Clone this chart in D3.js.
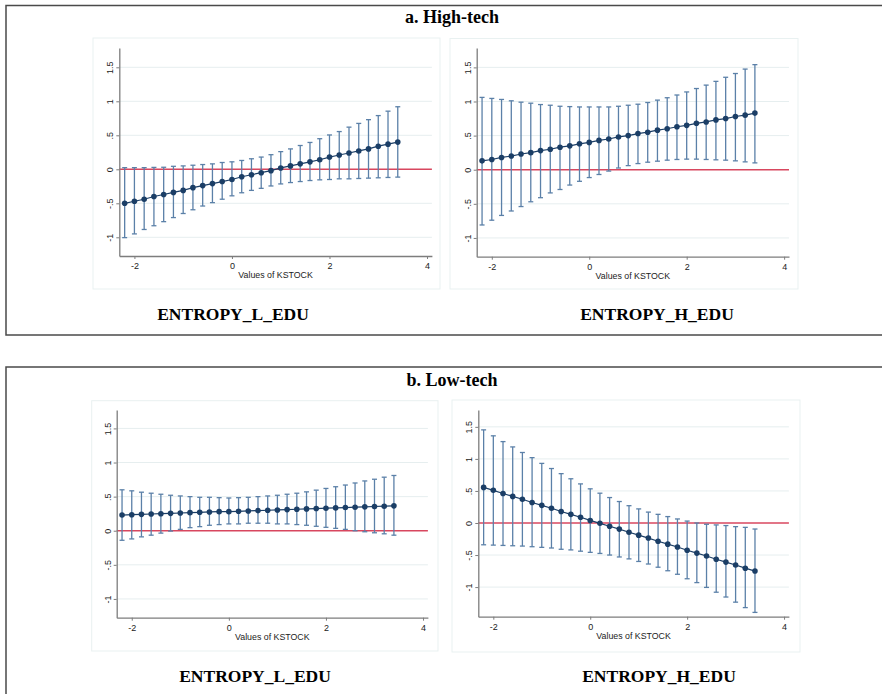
<!DOCTYPE html>
<html>
<head>
<meta charset="utf-8">
<script src="https://cdn.jsdelivr.net/npm/d3@7"></script>
<style>
  body { margin: 0; background: #fff; }
  svg { display: block; }
</style>
</head>
<body>
<div id="chart"></div>
<script>
// values of KSTOCK at which the margins were evaluated
const kstock = [-2.2, -2.0, -1.8, -1.6, -1.4, -1.2, -1.0, -0.8, -0.6, -0.4, -0.2, 0.0, 0.2, 0.4, 0.6,
  0.8, 1.0, 1.2, 1.4, 1.6, 1.8, 2.0, 2.2, 2.4, 2.6, 2.8, 3.0, 3.2, 3.4];

// a. High-tech, ENTROPY_L_EDU
const hiL_est = [-0.50, -0.47, -0.44, -0.40, -0.37, -0.34, -0.31, -0.27, -0.24, -0.21, -0.18, -0.15, -0.11, -0.08, -0.05,
  -0.02, 0.02, 0.05, 0.08, 0.11, 0.14, 0.18, 0.21, 0.24, 0.27, 0.30, 0.34, 0.37, 0.40];
const hiL_hi = [0.024, 0.024, 0.024, 0.028, 0.03, 0.044, 0.05, 0.06, 0.07, 0.08, 0.10, 0.11, 0.13, 0.155, 0.18,
  0.215, 0.26, 0.30, 0.35, 0.395, 0.45, 0.505, 0.555, 0.62, 0.675, 0.73, 0.79, 0.855, 0.92];
const hiL_lo = [-1.005, -0.95, -0.885, -0.83, -0.77, -0.71, -0.65, -0.595, -0.54, -0.49, -0.44, -0.39, -0.345, -0.31, -0.28,
  -0.245, -0.215, -0.195, -0.18, -0.165, -0.155, -0.15, -0.14, -0.14, -0.135, -0.13, -0.125, -0.12, -0.115];

// a. High-tech, ENTROPY_H_EDU
const hiH_est = [0.13, 0.15, 0.18, 0.20, 0.23, 0.25, 0.28, 0.30, 0.33, 0.35, 0.38, 0.40, 0.43, 0.45, 0.48,
  0.50, 0.53, 0.55, 0.58, 0.60, 0.63, 0.65, 0.68, 0.70, 0.73, 0.75, 0.78, 0.80, 0.83];
const hiH_hi = [1.06, 1.045, 1.03, 1.01, 0.99, 0.975, 0.955, 0.945, 0.93, 0.925, 0.92, 0.92, 0.92, 0.92, 0.93,
  0.945, 0.96, 0.985, 1.02, 1.055, 1.095, 1.14, 1.19, 1.24, 1.295, 1.355, 1.41, 1.475, 1.54];
const hiH_lo = [-0.81, -0.74, -0.67, -0.605, -0.54, -0.47, -0.41, -0.34, -0.29, -0.225, -0.17, -0.115, -0.07, -0.02, 0.025,
  0.06, 0.09, 0.11, 0.125, 0.14, 0.15, 0.155, 0.155, 0.15, 0.145, 0.14, 0.13, 0.115, 0.10];

// b. Low-tech, ENTROPY_L_EDU
const loL_est = [0.23, 0.235, 0.24, 0.245, 0.25, 0.255, 0.26, 0.265, 0.27, 0.275, 0.28, 0.28, 0.285, 0.29, 0.295,
  0.30, 0.305, 0.31, 0.315, 0.32, 0.325, 0.33, 0.335, 0.34, 0.345, 0.35, 0.355, 0.36, 0.365];
const loL_hi = [0.60, 0.585, 0.565, 0.55, 0.535, 0.52, 0.51, 0.50, 0.49, 0.49, 0.485, 0.48, 0.485, 0.49, 0.50,
  0.51, 0.52, 0.535, 0.55, 0.57, 0.595, 0.62, 0.645, 0.67, 0.70, 0.73, 0.755, 0.785, 0.81];
const loL_lo = [-0.14, -0.12, -0.09, -0.065, -0.035, -0.005, 0.02, 0.045, 0.06, 0.08, 0.09, 0.10, 0.10, 0.11, 0.11,
  0.11, 0.10, 0.10, 0.09, 0.08, 0.065, 0.05, 0.035, 0.02, 0.0, -0.015, -0.03, -0.045, -0.065];

// b. Low-tech, ENTROPY_H_EDU
const loH_est = [0.555, 0.51, 0.46, 0.415, 0.37, 0.32, 0.275, 0.23, 0.18, 0.135, 0.09, 0.04, -0.005, -0.05, -0.095,
  -0.145, -0.19, -0.235, -0.285, -0.33, -0.375, -0.425, -0.47, -0.515, -0.565, -0.61, -0.655, -0.705, -0.75];
const loH_hi = [1.453, 1.36, 1.27, 1.187, 1.10, 1.02, 0.93, 0.85, 0.77, 0.69, 0.61, 0.533, 0.465, 0.397, 0.335,
  0.27, 0.22, 0.17, 0.135, 0.10, 0.063, 0.03, 0.0, -0.02, -0.03, -0.04, -0.057, -0.068, -0.094];
const loH_lo = [-0.34, -0.345, -0.35, -0.355, -0.36, -0.37, -0.38, -0.39, -0.41, -0.42, -0.44, -0.458, -0.475, -0.50, -0.53,
  -0.56, -0.60, -0.64, -0.69, -0.745, -0.80, -0.87, -0.93, -1.005, -1.08, -1.155, -1.235, -1.32, -1.395];

const yTicks = [-1, -0.5, 0, 0.5, 1, 1.5];
const xTicks = [-2, 0, 2, 4];
const sectionTitles = ["a. High-tech", "b. Low-tech"];
const panelTitles = ["ENTROPY_L_EDU", "ENTROPY_H_EDU"];
const xTitle = "Values of KSTOCK";

const W = 882, H = 694;
const navy = "#1b3e66", ciColor = "#5b80a8", zeroColor = "#d8475f";

const svg = d3.select("#chart").append("svg")
  .attr("width", W).attr("height", H);

// section frames (run off the right / bottom edge like the source)
svg.append("rect").attr("x", 6).attr("y", 5.5).attr("width", 900).attr("height", 329.5)
  .attr("fill", "none").attr("stroke", "#4a4a4a").attr("stroke-width", 1.5);
svg.append("rect").attr("x", 6).attr("y", 367).attr("width", 900).attr("height", 400)
  .attr("fill", "none").attr("stroke", "#4a4a4a").attr("stroke-width", 1.5);

svg.selectAll(".section-title")
  .data(sectionTitles)
  .enter().append("text")
  .attr("x", 452)
  .attr("y", (d, i) => i === 0 ? 23 : 386)
  .attr("text-anchor", "middle")
  .style("font-family", "'Liberation Serif', 'Times New Roman', serif")
  .style("font-weight", "bold")
  .style("font-size", "18px")
  .text(d => d);

const panels = [
  { est: hiL_est, lo: hiL_lo, hi: hiL_hi, left: 119.3, right: 431.9, top: 48, bottom: 256, yMin: -1.275, yMax: 1.784,
    box: [93, 38, 440, 289], title: panelTitles[0], tx: 233, ty: 320 },
  { est: hiH_est, lo: hiH_lo, hi: hiH_hi, left: 476.7, right: 789, top: 48, bottom: 256.7, yMin: -1.275, yMax: 1.784,
    box: [450, 38.5, 798, 289], title: panelTitles[1], tx: 657, ty: 320 },
  { est: loL_est, lo: loL_lo, hi: loL_hi, left: 116.7, right: 427.9, top: 410, bottom: 617.7, yMin: -1.275, yMax: 1.77,
    box: [91.7, 400.7, 438, 651], title: panelTitles[0], tx: 255, ty: 682 },
  { est: loH_est, lo: loH_lo, hi: loH_hi, left: 478.3, right: 788.9, top: 410, bottom: 616.7, yMin: -1.462, yMax: 1.763,
    box: [452, 400, 800, 652], title: panelTitles[1], tx: 659, ty: 682 }
];

const fmt = v => {
  if (v === 0) return "0";
  const s = String(v);
  return s.replace(/^0\./, ".").replace(/^-0\./, "-.");
};

panels.forEach(p => {
  const data = kstock.map((k, i) => ({ k, est: p.est[i], lo: p.lo[i], hi: p.hi[i] }));
  const x = d3.scaleLinear().domain([-2.31, 4.1]).range([p.left, p.right]);
  const y = d3.scaleLinear().domain([p.yMin, p.yMax]).range([p.bottom, p.top]);

  const g = svg.append("g");

  // plot region outline
  g.append("rect")
    .attr("x", p.box[0]).attr("y", p.box[1])
    .attr("width", p.box[2] - p.box[0]).attr("height", p.box[3] - p.box[1])
    .attr("fill", "#fff").attr("stroke", "#e9f1f1").attr("stroke-width", 1);

  // grid
  g.selectAll(".grid")
    .data(yTicks.filter(t => t !== 0))
    .enter().append("line")
    .attr("x1", p.left).attr("x2", p.right)
    .attr("y1", d => y(d)).attr("y2", d => y(d))
    .attr("stroke", "#e6eeef").attr("stroke-width", 1);

  // zero reference line
  g.append("line")
    .attr("x1", p.left).attr("x2", p.right)
    .attr("y1", y(0)).attr("y2", y(0))
    .attr("stroke", zeroColor).attr("stroke-width", 1.4);

  // axes
  const yAxis = g.append("g")
    .attr("transform", `translate(${p.left},0)`)
    .call(d3.axisLeft(y).tickValues(yTicks).tickSize(3).tickSizeOuter(0).tickFormat(fmt));
  yAxis.selectAll("text")
    .attr("transform", "rotate(-90)")
    .attr("x", 0).attr("y", -6).attr("dy", 0)
    .attr("text-anchor", "middle");

  const xAxis = g.append("g")
    .attr("transform", `translate(0,${p.bottom})`)
    .call(d3.axisBottom(x).tickValues(xTicks).tickSize(3).tickSizeOuter(0).tickPadding(4).tickFormat(fmt));

  [yAxis, xAxis].forEach(a => {
    a.select(".domain").attr("stroke", "#7d7d7d").attr("stroke-width", 1.3);
    a.selectAll(".tick line").attr("stroke", "#7d7d7d");
    a.selectAll("text")
      .style("font-family", "'Liberation Sans', Arial, sans-serif")
      .style("font-size", "9px")
      .attr("fill", "#222");
  });

  g.append("text")
    .attr("x", (p.left + p.right) / 2)
    .attr("y", p.bottom + 22)
    .attr("text-anchor", "middle")
    .style("font-family", "'Liberation Sans', Arial, sans-serif")
    .style("font-size", "8.8px")
    .attr("fill", "#222")
    .text(xTitle);

  // confidence intervals with caps
  const ci = g.selectAll(".ci").data(data).enter().append("g");
  ci.append("line")
    .attr("x1", d => x(d.k)).attr("x2", d => x(d.k))
    .attr("y1", d => y(d.lo)).attr("y2", d => y(d.hi))
    .attr("stroke", ciColor).attr("stroke-width", 1.3);
  ci.selectAll(".cap")
    .data(d => [{ k: d.k, v: d.lo }, { k: d.k, v: d.hi }])
    .enter().append("line")
    .attr("x1", d => x(d.k) - 2.5).attr("x2", d => x(d.k) + 2.5)
    .attr("y1", d => y(d.v)).attr("y2", d => y(d.v))
    .attr("stroke", ciColor).attr("stroke-width", 1.3);

  // point estimates
  g.append("path")
    .datum(data)
    .attr("fill", "none").attr("stroke", navy).attr("stroke-width", 1.2)
    .attr("d", d3.line().x(d => x(d.k)).y(d => y(d.est)));
  g.selectAll(".pt").data(data).enter().append("circle")
    .attr("cx", d => x(d.k)).attr("cy", d => y(d.est)).attr("r", 2.8)
    .attr("fill", navy);

  svg.append("text")
    .attr("x", p.tx).attr("y", p.ty)
    .attr("text-anchor", "middle")
    .style("font-family", "'Liberation Serif', 'Times New Roman', serif")
    .style("font-weight", "bold")
    .style("font-size", "17.5px")
    .text(p.title);
});
</script>
</body>
</html>
